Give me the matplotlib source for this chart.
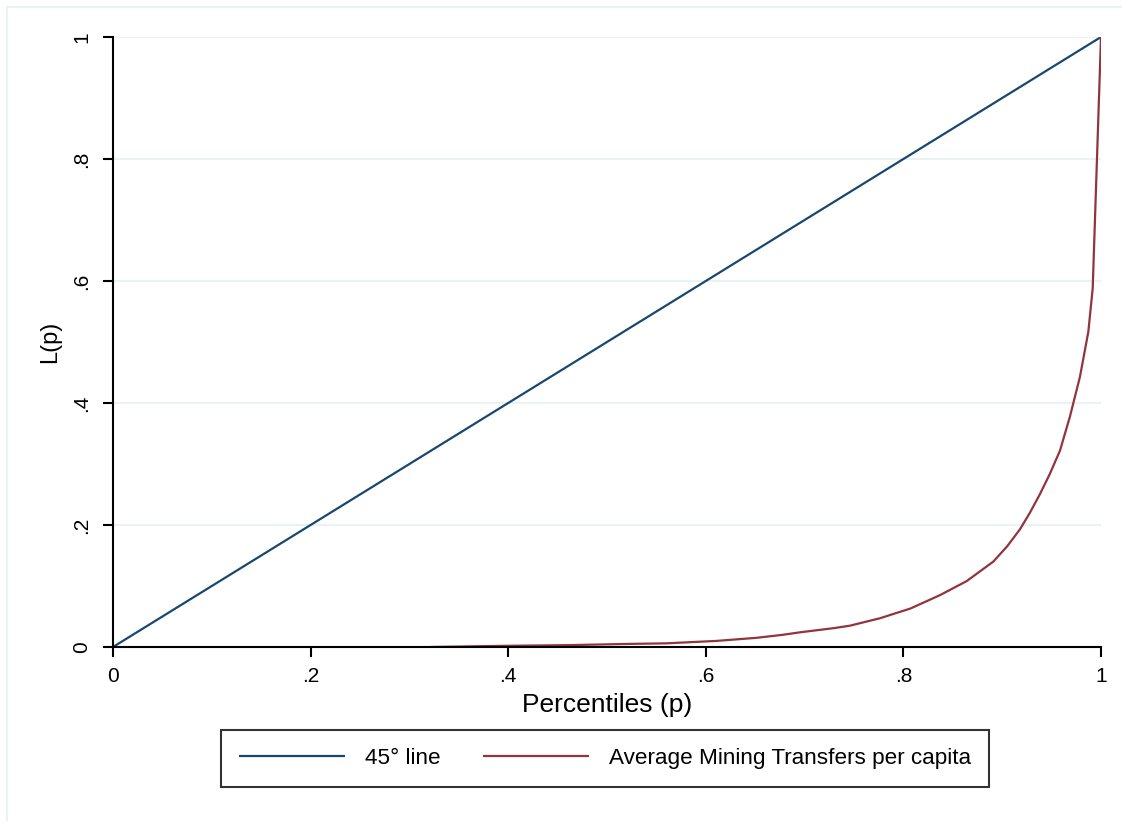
import matplotlib
matplotlib.use("Agg")
import matplotlib.pyplot as plt
from matplotlib.lines import Line2D

plt.rcParams['font.family'] = ['Liberation Sans', 'DejaVu Sans']

# Data
line45_x = [0.0, 1.0]
line45_y = [0.0, 1.0]
lorenz_x = [0.321, 0.40, 0.459, 0.52, 0.56, 0.611, 0.651, 0.678, 0.695, 0.71,
            0.73, 0.746, 0.776, 0.807, 0.837, 0.864, 0.891, 0.905, 0.918,
            0.928, 0.938, 0.948, 0.9585, 0.9686, 0.9787, 0.9872, 0.9916, 1.0]
lorenz_y = [0.0, 0.002, 0.003, 0.005, 0.006, 0.010, 0.015, 0.020, 0.024, 0.027,
            0.031, 0.035, 0.047, 0.063, 0.085, 0.108, 0.140, 0.165, 0.193,
            0.220, 0.250, 0.283, 0.322, 0.378, 0.443, 0.517, 0.588, 1.0]
ticks = [0, 0.2, 0.4, 0.6, 0.8, 1.0]
tick_labels = ["0", ".2", ".4", ".6", ".8", "1"]
series_names = ["45\u00b0 line", "Average Mining Transfers per capita"]

BLUE = "#1a476f"
RED = "#90353b"
GRID = "#eaf2f3"

W, H = 1122, 821
fig = plt.figure(figsize=(W / 100, H / 100), dpi=100)
fig.patch.set_facecolor("white")

# faint outer border (cropped graph region)
fig.add_artist(Line2D([7 / W, 1.0], [1 - 7 / H, 1 - 7 / H], color=GRID, lw=1.5,
                      transform=fig.transFigure))
fig.add_artist(Line2D([7 / W, 7 / W], [0.0, 1 - 7 / H], color=GRID, lw=1.5,
                      transform=fig.transFigure))

ax = fig.add_axes([113 / W, 1 - 647 / H, (1101 - 113) / W, (647 - 37) / H])
ax.set_xlim(0, 1)
ax.set_ylim(0, 1)

for t in ticks[1:]:
    ax.axhline(t, color=GRID, lw=1.5, zorder=0)

l1, = ax.plot(line45_x, line45_y, color=BLUE, lw=1.6, label=series_names[0],
              solid_capstyle='butt')
l2, = ax.plot(lorenz_x, lorenz_y, color=RED, lw=1.6, label=series_names[1],
              solid_capstyle='butt')

for s in ["top", "right"]:
    ax.spines[s].set_visible(False)
for s in ["left", "bottom"]:
    ax.spines[s].set_linewidth(1.5)
    ax.spines[s].set_color("black")

ax.set_xticks(ticks)
ax.set_xticklabels(tick_labels)
ax.set_yticks(ticks)
ax.set_yticklabels(tick_labels, rotation=90, va="center")
ax.tick_params(axis="both", direction="out", length=7.5, width=1.5,
               labelsize=15, colors="black")
ax.tick_params(axis="x", pad=7)
ax.tick_params(axis="y", pad=8)

ax.set_xlabel("Percentiles (p)", fontsize=19, labelpad=5)
ax.set_ylabel("L(p)", fontsize=17, labelpad=8)

leg = fig.legend(handles=[l1, l2], loc="center",
                 bbox_to_anchor=(605 / W, 1 - 758.5 / H), ncol=2,
                 fontsize=16.2, frameon=True, fancybox=False,
                 edgecolor="black", handlelength=4.7, handletextpad=0.9,
                 columnspacing=1.9, borderpad=0.8, borderaxespad=0)
leg.get_frame().set_linewidth(1.5)
for lh in leg.get_lines():
    lh.set_linewidth(1.6)

fig.savefig("out.png", dpi=100, facecolor="white")
